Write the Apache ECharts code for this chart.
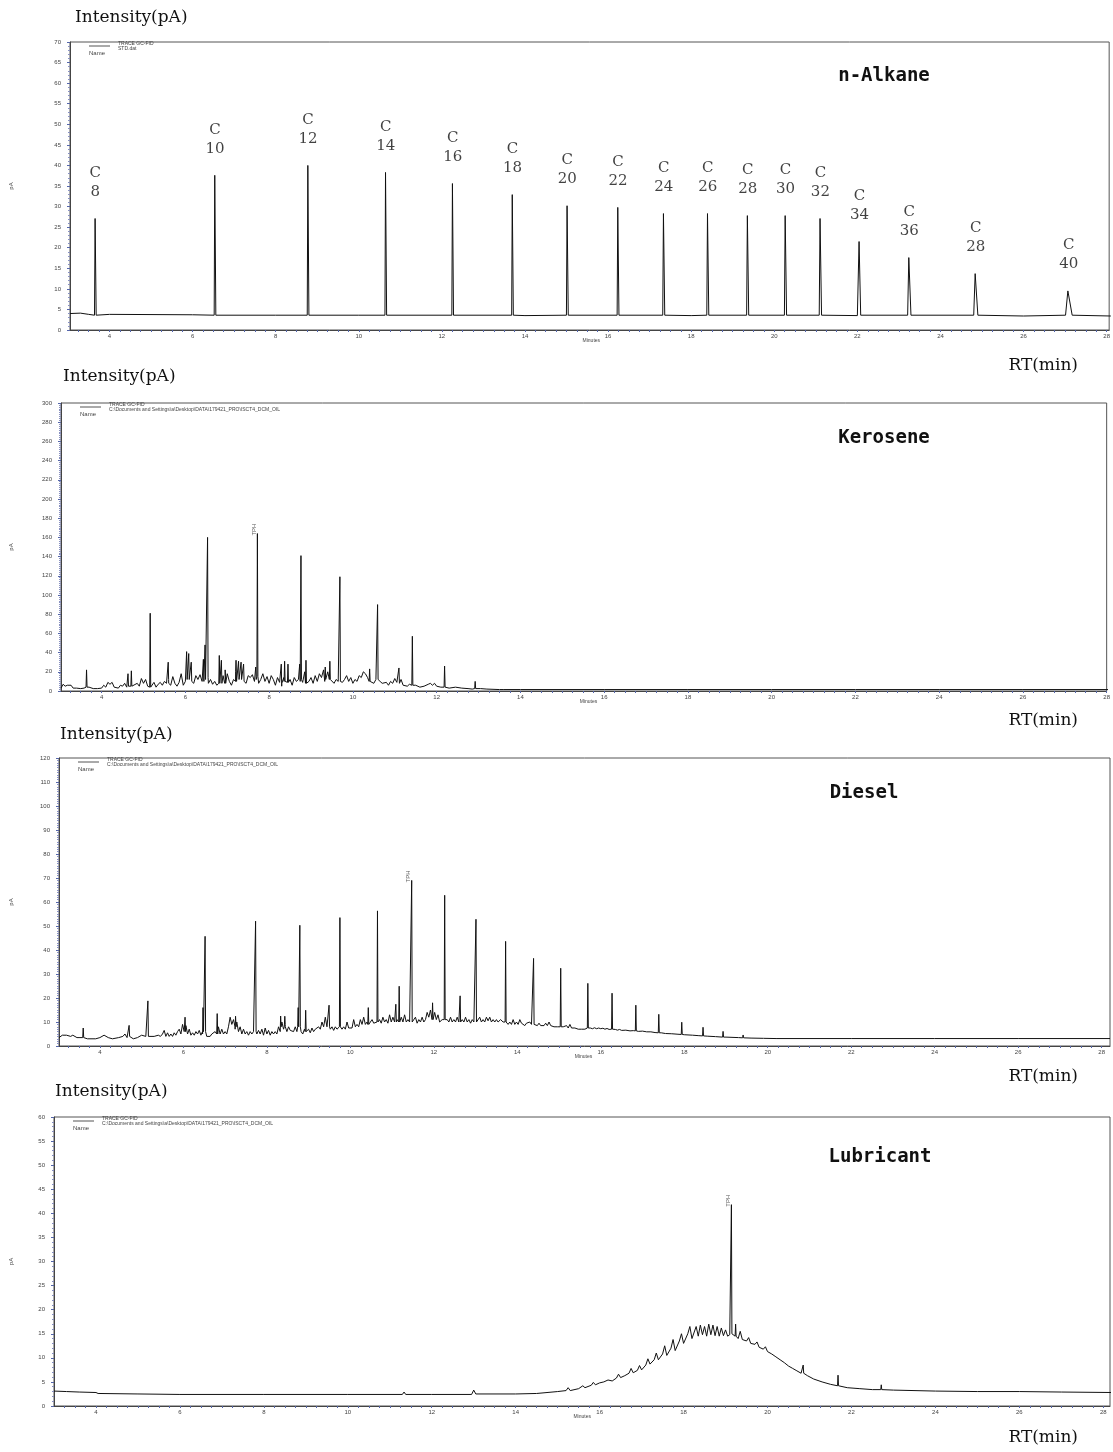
<!DOCTYPE html>
<html><head><meta charset="utf-8">
<script src="https://cdn.jsdelivr.net/npm/echarts@6/dist/echarts.min.js"></script>
<style>html,body{margin:0;padding:0;background:#fff}#c{width:1113px;height:1452px}</style>
</head><body><div id="c"></div>
<script>
// ---------- n-Alkane ----------
const alkaneBase = [[3.05,4.0],[3.3,4.1],[3.5,3.8],[4,3.8],[6,3.7],[8,3.6],[10,3.6],[14,3.5],[18,3.5],[22,3.5],[26,3.4],[28.1,3.4]];
const alkaneNames = ['8','10','12','14','16','18','20','22','24','26','28','30','32','34','36','28','40'];
const alkaneTimes = [3.66,6.54,8.78,10.65,12.26,13.70,15.02,16.24,17.34,18.40,19.36,20.27,21.11,22.05,23.25,24.85,27.09];
const alkaneHeights = [27.1,37.6,40.0,38.3,35.6,32.9,30.2,29.8,28.3,28.3,27.8,27.8,27.1,21.5,17.6,13.7,9.5];
const alkaneWidths = [0.02,0.02,0.02,0.02,0.02,0.02,0.022,0.022,0.024,0.024,0.025,0.026,0.028,0.03,0.04,0.05,0.08];

// ---------- Kerosene ----------
const keroBase = [[3.03,3],[3.08,7],[3.13,5],[3.18,6],[3.22,4],[3.27,6],[3.32,3],[3.4,3],[3.5,2.5],[3.58,3],[3.7,4],[3.8,2.5],[3.9,2.5],[4.0,3],[4.05,6],[4.1,4],[4.15,9],[4.2,7],[4.25,9],[4.3,4],[4.4,3],[4.45,6],[4.5,5],[4.55,8],[4.6,4],[4.75,3],[4.85,8],[4.9,5],[4.95,13],[5.0,8],[5.05,12],[5.1,5],[5.2,4],[5.25,9],[5.3,4],[5.35,7],[5.4,9],[5.45,6],[5.5,10],[5.55,8],[5.6,12],[5.65,6],[5.7,15],[5.75,8],[5.8,5],[5.85,9],[5.9,18],[5.95,6],[6.0,10],[6.1,14],[6.2,8],[6.25,16],[6.3,12],[6.35,17],[6.4,10],[6.55,8],[6.6,12],[6.65,7],[6.7,10],[6.75,6],[6.85,9],[6.9,16],[6.95,12],[7.0,18],[7.05,10],[7.1,6],[7.15,12],[7.2,20],[7.35,12],[7.45,8],[7.5,16],[7.55,14],[7.6,17],[7.65,10],[7.75,8],[7.8,12],[7.85,18],[7.9,10],[7.95,15],[8.0,8],[8.05,16],[8.1,12],[8.15,6],[8.2,14],[8.25,9],[8.3,5],[8.35,14],[8.5,12],[8.55,6],[8.6,14],[8.65,10],[8.7,12],[8.8,9],[8.85,20],[8.95,10],[9.0,14],[9.05,8],[9.1,16],[9.15,10],[9.2,18],[9.25,14],[9.3,22],[9.35,12],[9.4,20],[9.5,10],[9.55,8],[9.6,12],[9.65,10],[9.75,9],[9.8,12],[9.85,16],[9.9,10],[9.95,14],[10.0,8],[10.05,12],[10.1,10],[10.15,16],[10.2,14],[10.25,20],[10.3,18],[10.35,14],[10.45,10],[10.5,8],[10.55,12],[10.65,10],[10.7,8],[10.8,9],[10.85,6],[10.9,10],[10.95,8],[11.0,13],[11.05,9],[11.15,12],[11.2,6],[11.3,5],[11.35,7],[11.5,6],[11.6,4],[11.7,5],[11.8,7],[11.85,8],[11.9,6],[11.95,8],[12.0,5],[12.1,4],[12.3,3],[12.45,4],[12.6,3],[12.75,2.5],[12.85,2],[13.05,2.5],[13.2,2],[13.5,1.5],[14,1.5],[16,1.5],[18,1.5],[20,1.5],[22,1.5],[24,1.5],[26,1.5],[28.1,1.5]];
// [time, height, base]
const keroPeaks = [[3.64,22,4],[4.63,18,5],[4.71,21,5],[5.16,81,4],[5.59,30,8],[6.03,41,12],[6.08,39,12],[6.14,30,10],[6.43,33,10],[6.47,48,12],[6.53,160,14],[6.81,37,8],[6.86,32,8],[6.95,22,8],[7.21,32,10],[7.27,31,12],[7.33,30,12],[7.39,28,10],[7.68,25,12],[7.72,164,15],[8.29,28,8],[8.37,31,10],[8.45,28,9],[8.73,28,10],[8.76,141,12],[8.88,32,8],[9.34,25,10],[9.45,31,12],[9.69,119,10],[10.40,23,10],[10.59,90,12],[11.10,24,8],[11.42,57,6],[12.19,26,4],[12.92,10,2.5],[13.6,3,1.5]];

// ---------- Diesel ----------
const dieselBase = [[3.02,3.5],[3.1,4.5],[3.2,4.5],[3.3,4],[3.35,4.5],[3.45,3.5],[3.5,3.5],[3.7,3],[3.9,3],[4.0,3.5],[4.1,4.5],[4.2,3.5],[4.3,3],[4.45,3.5],[4.55,4],[4.6,5],[4.65,3.5],[4.8,3],[4.9,3.5],[5.0,4.5],[5.1,4],[5.2,3.5],[5.3,4],[5.4,4.5],[5.45,4],
[5.50,5],[5.54,6.5],[5.58,4],[5.62,5.5],[5.66,4],[5.70,5],[5.74,4],[5.78,5.5],[5.82,4.5],[5.86,6],[5.90,7],[5.94,5],[5.98,9],[6.02,6],[6.06,8.5],[6.10,5],[6.14,7],[6.18,4.5],[6.22,5.5],[6.26,4.5],[6.30,6],[6.34,5],[6.38,6.5],[6.42,4.5],[6.46,5],[6.56,4],[6.60,4.5],[6.64,4],[6.68,5],[6.72,4.5],[6.76,6],[6.80,5],[6.84,8],[6.88,5],[6.92,7],[6.96,5],[7.00,6],[7.04,5],[7.08,8],[7.12,12],[7.16,9],[7.20,11],[7.24,7],[7.28,10],[7.32,6],[7.36,8],[7.40,5],[7.44,7],[7.48,5],[7.52,6],[7.56,4.5],[7.60,6],[7.64,5],[7.68,6],[7.76,5],[7.80,6.5],[7.84,5],[7.88,7],[7.92,4.5],[7.96,7.5],[8.00,5],[8.04,6.5],[8.08,4.5],[8.12,6],[8.16,5],[8.20,6],[8.24,5],[8.28,8],[8.32,6],[8.36,10],[8.40,7],[8.44,9],[8.48,6],[8.52,8],[8.56,6.5],[8.60,7],[8.64,6],[8.68,8],[8.72,6],[8.82,6],[8.86,5],[8.90,7],[8.96,5.5],[9.00,7],[9.04,5.5],[9.08,7.5],[9.12,6],[9.16,7],[9.20,6.5],[9.24,8],[9.28,7],[9.32,10],[9.36,8],[9.40,12],[9.44,8],[9.52,7],[9.56,8],[9.60,6.5],[9.64,8],[9.68,7],[9.72,7.5],[9.80,7],[9.84,8],[9.88,7],[9.92,10],[9.96,7.5],[10.00,8],[10.04,7.5],[10.08,11],[10.12,8],[10.16,9],[10.20,8],[10.24,11],[10.28,9],[10.32,12],[10.36,9],[10.40,10],[10.48,9],[10.52,11],[10.56,9.5],[10.60,10],[10.70,11],[10.74,9.5],[10.78,12],[10.82,10],[10.86,11],[10.90,9.5],[10.94,13],[10.98,10],[11.02,12],[11.06,10],[11.12,11],[11.22,12],[11.26,10],[11.30,13],[11.34,10],[11.38,11],[11.42,10],[11.52,10],[11.56,12],[11.60,9.5],[11.64,11],[11.68,10],[11.72,12],[11.76,10],[11.80,11],[11.84,14],[11.88,12],[11.92,15],[11.96,12],[12.02,14],[12.06,11],[12.10,13],[12.14,10],[12.20,11],[12.32,11],[12.36,10],[12.40,12],[12.44,10],[12.48,11],[12.52,10],[12.56,12],[12.60,10],[12.68,11],[12.72,10],[12.76,12],[12.80,10],[12.84,11],[12.88,9.5],[12.92,11],[12.96,10],[13.06,10.5],[13.10,12],[13.14,10],[13.18,11],[13.22,10],[13.26,12],[13.30,10.5],[13.34,12],[13.38,10],[13.42,11],[13.46,10],[13.50,11],[13.54,10],[13.60,11],[13.66,10],[13.78,9],[13.82,10],[13.86,9],[13.90,11],[13.94,9],[13.98,10],[14.02,9],[14.06,11],[14.10,9.5],[14.14,10],[14.18,8.5],[14.22,9.5],[14.26,9],[14.30,10],[14.34,9],[14.44,9],[14.48,8.5],[14.52,9.5],[14.56,8.5],[14.60,9],[14.64,8.5],[14.68,9.5],[14.72,8.5],[14.76,10],[14.80,8.5],[14.84,9],[14.88,8],[14.92,8.5],[14.96,8],[15.10,8],[15.14,7.5],[15.18,8.5],[15.22,7.5],[15.26,9],[15.30,7.5],[15.34,8],[15.38,7.5],[15.42,8],[15.46,7],[15.50,7.5],[15.54,7],[15.58,7.5],[15.62,7],[15.75,7.5],[15.80,7.2],[15.85,7.6],[15.90,7.2],[15.95,7.5],[16.00,7.2],[16.05,7.4],[16.10,7],[16.15,7.3],[16.20,6.9],[16.35,6.9],[16.40,6.6],[16.45,6.9],[16.50,6.5],[16.6,6.6],[16.7,6.3],[16.78,6.4],[16.9,6.1],[17.0,6.2],[17.1,5.9],[17.2,5.9],[17.3,5.6],[17.45,5.5],[17.55,5.2],[17.7,5.1],[17.85,4.9],[18.0,4.7],[18.2,4.5],[18.35,4.3],[18.55,4.1],[18.75,3.9],[19.0,3.7],[19.3,3.5],[19.6,3.3],[19.9,3.2],[20.2,3.1],[22,3.1],[24,3.1],[26,3.1],[28.2,3.1]];
const dieselPeaks = [[3.6,7.5,3.5],[4.7,8.6,4],[5.15,18.8,4],[6.04,12,6],[6.47,16,6],[6.52,45.7,6],[6.81,13.5,5],[7.25,12.4,8],[7.73,52,6],[8.33,12.5,8],[8.43,12.4,8],[8.75,16,8],[8.79,50.3,8],[8.93,14.9,6],[9.49,17,8],[9.75,53.5,8],[10.43,16,9],[10.65,56.3,10],[11.09,17.4,10],[11.17,24.9,10],[11.47,69,10],[11.97,18,11],[12.26,62.8,11],[12.63,20.9,10],[13.01,52.8,10],[13.72,43.6,10],[14.39,36.5,9],[15.04,32.4,8],[15.69,26.1,7.5],[16.27,22,7],[16.84,17,6.3],[17.39,13.2,5.5],[17.94,9.9,4.8],[18.45,7.8,4.2],[18.93,6.1,3.7],[19.41,4.6,3.4]];

// ---------- Lubricant ----------
const lubeBase = [[3.0,3.1],[3.3,3.0],[3.6,2.9],[4.0,2.8],[4.05,2.6],[5,2.5],[6,2.4],[8,2.4],[10,2.4],[11.3,2.4],[11.34,2.9],[11.38,2.4],[12,2.4],[12.95,2.4],[13.0,3.3],[13.05,2.5],[14,2.5],[14.5,2.6],[15.0,3.0],[15.2,3.2],[15.25,3.8],[15.3,3.2],[15.5,3.6],[15.6,4.2],[15.65,3.8],[15.8,4.3],[15.85,4.9],[15.9,4.4],[16.0,4.8],[16.1,5],[16.2,5.4],[16.3,5.2],[16.4,5.8],[16.45,6.6],[16.5,5.9],[16.6,6.3],[16.7,6.8],[16.75,7.8],[16.8,6.9],[16.9,7.4],[16.95,8.4],[17.0,7.5],[17.1,8.5],[17.15,9.8],[17.2,8.7],[17.3,9.6],[17.35,11.0],[17.4,9.6],[17.5,10.8],[17.55,12.5],[17.6,10.5],[17.7,12],[17.75,13.8],[17.8,11.5],[17.9,13.5],[17.95,15],[18.0,13],[18.1,15],[18.15,16.5],[18.2,14],[18.3,16.5],[18.35,14.5],[18.4,16.8],[18.45,14.8],[18.5,16.5],[18.55,14.5],[18.6,17],[18.65,14.8],[18.7,16.8],[18.75,14.6],[18.8,16.5],[18.85,14.5],[18.9,16.2],[18.95,14.6],[19.0,15.8],[19.05,14.5],[19.1,14.8],[19.3,14],[19.35,15.5],[19.4,13.8],[19.5,13.5],[19.55,14.2],[19.6,13],[19.7,12.8],[19.75,13.3],[19.8,12.2],[19.9,11.8],[19.95,12.3],[20.0,11.3],[20.1,10.8],[20.2,10.2],[20.3,9.6],[20.4,9],[20.5,8.3],[20.6,7.8],[20.7,7.3],[20.8,6.8],[20.95,6.3],[21.1,5.6],[21.3,5],[21.5,4.5],[21.7,4.1],[21.9,3.8],[22.2,3.6],[22.5,3.4],[23,3.3],[24,3.1],[25,3.0],[26,3.0],[27,2.9],[28.2,2.8]];
const lubePeaks = [[19.14,41.8,15],[19.24,17,14.5],[20.85,8.5,6.8],[21.68,6.4,4.2],[22.71,4.4,3.4]];

// TPH markers [time, height]
const keroTPH = [7.72,164];
const dieselTPH = [11.47,69];
const lubeTPH = [19.14,41.8];

const xLabelValues = [4,6,8,10,12,14,16,18,20,22,24,26,28];

function buildSignal(base, peaks, hw) {
  const pts = base.map(p => [p[0], p[1]]);
  peaks.forEach(p => { pts.push([p[0]-hw, p[2]], [p[0], p[1]], [p[0]+hw, p[2]]); });
  pts.sort((a,b)=>a[0]-b[0]);
  return pts;
}
function buildAlkane() {
  const pts = alkaneBase.map(p => [p[0], p[1]]);
  alkaneTimes.forEach((t,i)=>{ const w=alkaneWidths[i]; pts.push([t-w,3.6],[t-w*0.3,alkaneHeights[i]],[t+w*0.3,alkaneHeights[i]],[t+w,3.6]); });
  pts.sort((a,b)=>a[0]-b[0]);
  return pts;
}
const minorX = [];
for (let v = 3.25; v <= 28.01; v += 0.25) minorX.push(+v.toFixed(2));

const grids = [
  {left:68, top:42, width:1042, height:288, xmin:3.05, xmax:28.06, ymax:70, step:5, minor:5},
  {left:59, top:403, width:1051, height:288, xmin:3.03, xmax:28.0, ymax:300, step:20, minor:10},
  {left:57, top:758, width:1053, height:288, xmin:3.02, xmax:28.2, ymax:120, step:10, minor:10},
  {left:52, top:1117, width:1058, height:289, xmin:3.0, xmax:28.16, ymax:60, step:5, minor:5}
];
const tickFont = {fontSize:6, color:'#444', fontFamily:'Liberation Sans'};
const option = {
  animation:false,
  grid: grids.map(g=>({left:g.left, top:g.top, width:g.width, height:g.height, show:true, borderColor:'#555', borderWidth:1})),
  xAxis: grids.map((g,i)=>({type:'value', gridIndex:i, min:g.xmin, max:g.xmax,
    axisLine:{show:true, onZero:false, lineStyle:{color:'#444', width:1}},
    axisTick:{show:true, customValues:minorX, length:2, inside:false, lineStyle:{color:'#5566aa'}},
    axisLabel:{customValues:xLabelValues, margin:3, ...tickFont, showMinLabel:true, showMaxLabel:true},
    splitLine:{show:false}})),
  yAxis: grids.map((g,i)=>({type:'value', gridIndex:i, min:0, max:g.ymax, interval:g.step,
    name:'pA', nameLocation:'middle', nameGap: g.left-12, nameRotate:90, nameTextStyle:{fontSize:6, color:'#444'},
    axisLine:{show:true, lineStyle:{color:'#444', width:1}},
    axisTick:{show:true, length:3, lineStyle:{color:'#5566aa'}},
    minorTick:{show:true, splitNumber:g.minor, length:2, lineStyle:{color:'#8890c0'}},
    axisLabel:{margin:9, ...tickFont},
    splitLine:{show:false}})),
  series: [
    {type:'line', xAxisIndex:0, yAxisIndex:0, data:buildAlkane(), showSymbol:false, lineStyle:{color:'#111', width:1}, silent:true},
    {type:'scatter', xAxisIndex:0, yAxisIndex:0, symbolSize:0, data:alkaneTimes.map((t,i)=>[t, alkaneHeights[i], alkaneNames[i]]),
      label:{show:true, position:'top', distance:17, formatter:p=>'C\n'+p.value[2], fontFamily:'DejaVu Serif', fontSize:15, lineHeight:19, color:'#111', align:'center'}},
    {type:'line', xAxisIndex:1, yAxisIndex:1, data:buildSignal(keroBase, keroPeaks, 0.012), showSymbol:false, lineStyle:{color:'#111', width:1}, silent:true},
    {type:'line', xAxisIndex:2, yAxisIndex:2, data:buildSignal(dieselBase, dieselPeaks, 0.012), showSymbol:false, lineStyle:{color:'#111', width:1}, silent:true},
    {type:'line', xAxisIndex:3, yAxisIndex:3, data:buildSignal(lubeBase, lubePeaks, 0.012), showSymbol:false, lineStyle:{color:'#111', width:1}, silent:true},
    ...[[1,keroTPH],[2,dieselTPH],[3,lubeTPH]].map(([i,p])=>({type:'scatter', xAxisIndex:i, yAxisIndex:i, symbolSize:0, data:[p],
      label:{show:true, position:'top', distance:4, rotate:90, formatter:'TPH', fontSize:6, color:'#333', fontFamily:'Liberation Sans'}}))
  ],
  graphic: []
};
const serif = 'DejaVu Serif';
const G = option.graphic;
function txt(x,y,text,font,align,valign,fill){ G.push({type:'text', x, y, style:{text, font, textAlign:align||'left', textVerticalAlign:valign||'middle', fill:fill||'#111'}, silent:true}); }
// Panel headers
[[75,18],[63,377],[60,735],[55,1092]].forEach(p=>txt(p[0],p[1],'Intensity(pA)','17px "'+serif+'"'));
[366,721,1077,1438].forEach(y=>txt(1078,y,'RT(min)','17px "'+serif+'"','right'));
[['n-Alkane',884,76],['Kerosene',884,438],['Diesel',864,793],['Lubricant',880,1157]].forEach(p=>txt(p[1],p[2],p[0],'bold 19px "DejaVu Sans Mono"','center'));
// Legends
const files = ['STD.dat','C:\\Documents and Settings\\a\\Desktop\\DATA\\179421_PRO\\ISCT4_DCM_OIL','C:\\Documents and Settings\\a\\Desktop\\DATA\\179421_PRO\\ISCT4_DCM_OIL','C:\\Documents and Settings\\a\\Desktop\\DATA\\179421_PRO\\ISCT4_DCM_OIL'];
grids.forEach((g,i)=>{
  const x0 = g.left+21, y0 = g.top+3;
  G.push({type:'line', shape:{x1:x0, y1:y0+1, x2:x0+21, y2:y0+1}, style:{stroke:'#555', lineWidth:1}, silent:true});
  txt(x0+29, y0-1, 'TRACE GC-FID', '5px "Liberation Sans"', 'left','middle','#444');
  txt(x0+29, y0+4, files[i], '5px "Liberation Sans"', 'left','middle','#444');
  txt(x0, y0+8, 'Name', '6px "Liberation Sans"', 'left','middle','#444');
  txt(g.left + (15.4-g.xmin)/(g.xmax-g.xmin)*g.width, g.top+g.height+11, 'Minutes', '5px "Liberation Sans"','left','middle','#444');
});
const chart = echarts.init(document.getElementById('c'), null, {renderer:'canvas'});
chart.setOption(option);
</script></body></html>
